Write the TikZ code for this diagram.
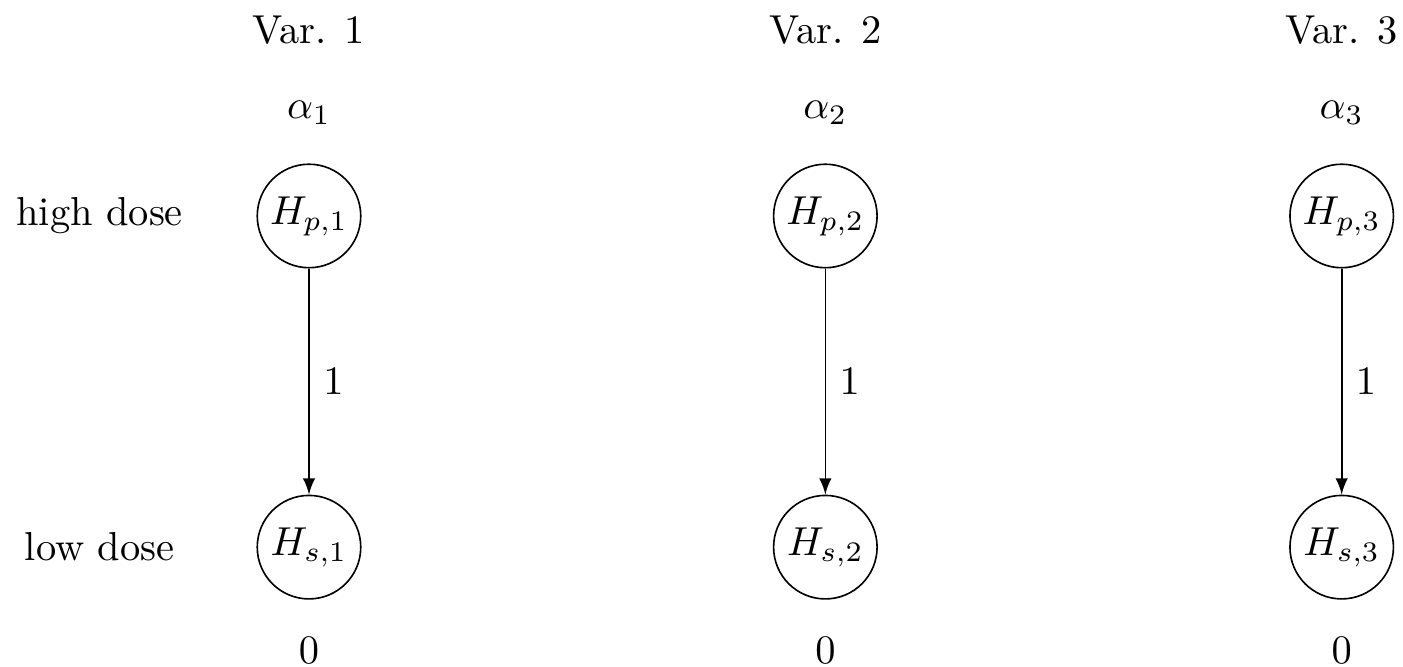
\documentclass[tikz,border=0pt]{standalone}
\usepackage{tikz}

\begin{document}
\begin{tikzpicture}
 [dose node/.style={circle,draw,minimum size=0.9cm,inner sep=0pt},
  var label/.style={node distance=1.62cm},
  weight label/.style={node distance=0.9cm},
  row label/.style={node distance=1.82cm}]

\useasboundingbox (0,0) rectangle (12.2,-5.8);

\node[dose node] (hp1) at (2.687,-1.878) {$H_{p,1}$};
 \node[dose node] (hp2) [node distance=4.49cm, right of=hp1] {$H_{p,2}$};
 \node[dose node] (hp3) [node distance=4.49cm, right of=hp2] {$H_{p,3}$};

\node[dose node] (hs1) [node distance=2.88cm, below of=hp1] {$H_{s,1}$};
 \node[dose node] (hs2) [node distance=2.88cm, below of=hp2] {$H_{s,2}$};
 \node[dose node] (hs3) [node distance=2.88cm, below of=hp3] {$H_{s,3}$};

  \node (v1) [var label, above of=hp1] {Var. 1};
  \node (v2) [var label, above of=hp2] {Var. 2};
  \node (v3) [var label, above of=hp3] {Var. 3};

  \node (a1) [weight label, above of=hp1] {$\alpha_1$};
  \node (a2) [weight label, above of=hp2] {$\alpha_2$};
  \node (a3) [weight label, above of=hp3] {$\alpha_3$};

  \node (z1) [weight label, below of=hs1] {$0$};
  \node (z2) [weight label, below of=hs2] {$0$};
  \node (z3) [weight label, below of=hs3] {$0$};

  \node (high) [row label, left of=hp1] {high dose};
  \node (low) [row label, left of=hs1] {low dose};

\path
  (hp1) edge [-latex] node [right] {$1$} (hs1)
  (hp2) edge [-latex] node [right] {$1$} (hs2)
  (hp3) edge [-latex] node [right] {$1$} (hs3);

\end{tikzpicture}
\end{document}
